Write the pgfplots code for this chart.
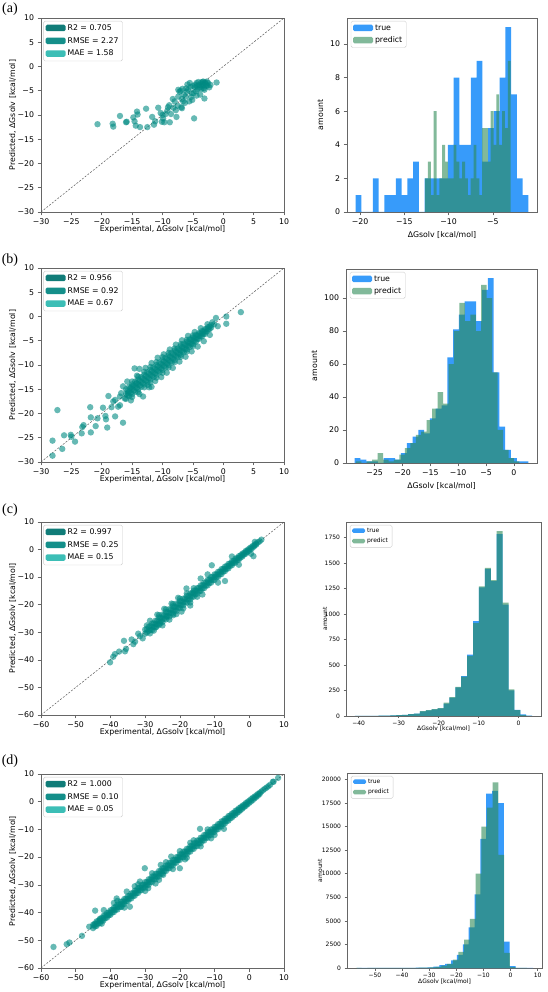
\documentclass[border=0pt]{standalone}
\usepackage{pgfplots}
\pgfplotsset{compat=1.18}
\usepackage{fontspec}
\setmainfont{DejaVu Sans}
\newfontfamily\serif{Liberation Serif}
\definecolor{scat}{RGB}{0,138,130}
\definecolor{lgA}{RGB}{16,124,120}
\definecolor{lgB}{RGB}{20,143,138}
\definecolor{lgC}{RGB}{60,190,182}
\definecolor{truec}{RGB}{55,155,250}
\definecolor{predc}{RGB}{46,139,87}
\newcommand{\fa}{\fontsize{7.8}{9}\selectfont}
\newcommand{\fb}{\fontsize{6}{7}\selectfont}
\pgfplotsset{
  base/.style={scale only axis, axis line style={black!60,line width=0.6pt},
    tick style={black!60,line width=0.6pt}, tick align=outside, tick pos=left,
    major tick length=3.5pt, legend cell align=left, scaled y ticks=false, scaled x ticks=false,
    legend image code/.code={\fill[##1] (0pt,-3pt) rectangle (20pt,3.5pt);}},
  scat/.style={base, width=243pt, height=194pt,
    xlabel={Experimental, ΔGsolv [kcal/mol]}, ylabel={Predicted, ΔGsolv [kcal/mol]},
    tick label style={font=\fa}, label style={font=\fa},
    xlabel style={at={(axis description cs:0.5,-0.0876)}, anchor=center},
    ylabel style={at={(axis description cs:-0.1165,0.5)}, anchor=center},
    legend style={at={(0.01,0.985)}, anchor=north west, draw=black!20, rounded corners=1.5pt,
      font=\fa, inner xsep=2pt, inner ysep=1.5pt, row sep=1.5pt}},
  scatAB/.style={scat, xmin=-30, xmax=10, ymin=-30, ymax=10,
    xtick={-30,-25,...,10}, ytick={-30,-25,...,10},
    xticklabels={−30,−25,−20,−15,−10,−5,0,5,10}, yticklabels={−30,−25,−20,−15,−10,−5,0,5,10}},
  scatCD/.style={scat, xmin=-60, xmax=10, ymin=-60, ymax=10,
    xtick={-60,-50,...,10}, ytick={-60,-50,...,10},
    xticklabels={−60,−50,−40,−30,−20,−10,0,10}, yticklabels={−60,−50,−40,−30,−20,−10,0,10}},
  pts/.style={only marks, mark=*, mark size=3.2pt, color=scat,
    mark options={fill=scat, fill opacity=0.6, draw opacity=0, line width=0pt}},
  diag/.style={black!65, line width=0.5pt, dash pattern=on 2pt off 1.5pt},
  hist/.style={base, ylabel={amount}, xlabel={ΔGsolv [kcal/mol]}, ymin=0},
  histAB/.style={hist, tick label style={font=\fa}, label style={font=\fa},
    legend style={at={(0.02,0.985)}, anchor=north west, draw=black!20, rounded corners=1.5pt,
      font=\fa, inner xsep=2pt, inner ysep=1.5pt, row sep=1pt}},
  histCD/.style={hist, tick label style={font=\fb}, label style={font=\fb},
    major tick length=2.5pt, xticklabel style={yshift=1pt},
    legend image code/.code={\fill[##1] (0pt,-2pt) rectangle (13pt,2.5pt);},
    legend style={at={(0.02,0.985)}, anchor=north west, draw=black!20, rounded corners=1.5pt,
      font=\fb, inner xsep=2pt, inner ysep=1pt, row sep=0.5pt}},
  tbar/.style={ybar interval, fill=truec, draw=none, forget plot},
  pbar/.style={ybar interval, fill=predc, fill opacity=0.6, draw=none, forget plot},
}
\begin{document}
\begin{tikzpicture}
\path[use as bounding box] (0,0) rectangle (547pt,992pt);
% ---------- (a) scatter
\begin{axis}[scatAB, at={(41pt,780pt)}, anchor=south west]
\addlegendimage{fill=lgA, draw=none}\addlegendentry{R2 = 0.705}
\addlegendimage{fill=lgB, draw=none}\addlegendentry{RMSE = 2.27}
\addlegendimage{fill=lgC, draw=none}\addlegendentry{MAE = 1.58}
\addplot[pts, forget plot] coordinates {
(-20.7,-11.9) (-18.2,-11.8) (-18.1,-12.4) (-17.0,-10.2) (-16.0,-11.5) (-15.9,-11.4) (-14.8,-10.5) (-14.6,-11.3) (-14.2,-9.3) (-14.1,-9.9) (-14.4,-12.2) (-13.7,-12.5) (-12.7,-8.7) (-12.5,-12.5) (-11.7,-10.4) (-11.4,-12.0) (-11.2,-11.3) (-10.7,-8.5) (-10.3,-9.6) (-10.0,-10.0) (-9.9,-10.7) (-10.1,-11.4) (-9.7,-11.5) (-9.2,-9.1) (-9.1,-8.4) (-8.9,-8.0) (-8.8,-11.5) (-8.6,-9.8) (-8.3,-6.7) (-8.0,-7.2) (-7.7,-10.4) (-7.5,-8.1) (-7.4,-6.2) (-7.4,-4.8) (-7.2,-5.2) (-6.9,-8.4) (-6.8,-8.6) (-6.8,-6.7) (-6.6,-7.2) (-6.5,-5.8) (-6.2,-6.2) (-6.1,-4.5) (-5.8,-4.8) (-5.6,-7.2) (-5.5,-3.4) (-5.2,-5.5) (-5.1,-6.9) (-4.8,-10.7) (-4.7,-4.3) (-4.5,-5.1) (-4.4,-3.4) (-4.2,-4.7) (-4.0,-3.8) (-3.9,-4.3) (-3.8,-5.8) (-3.6,-3.3) (-3.4,-4.0) (-3.3,-3.1) (-3.2,-4.5) (-3.1,-4.8) (-3.1,-6.6) (-2.9,-3.6) (-2.8,-4.0) (-2.5,-3.4) (-2.3,-4.3) (-2.1,-3.8) (-1.1,-3.3)
(-7.0,-5.0) (-6.0,-5.2) (-5.4,-4.2) (-5.0,-4.0) (-4.9,-5.5) (-4.6,-3.8) (-4.3,-4.0) (-4.1,-3.2) (-3.7,-3.9) (-3.5,-3.6) (-3.4,-3.2) (-3.2,-3.8) (-3.0,-3.3) (-2.7,-3.1) (-2.6,-3.9) (-3.6,-4.6) (-4.4,-6.0) (-5.3,-6.3) (-6.3,-7.5) (-7.8,-9.0) (-9.5,-9.8) (-8.2,-8.5) (-5.9,-3.7) (-6.7,-4.6)
};
\addplot[diag, forget plot] coordinates {(-30,-30) (10,10)};
\end{axis}
% ---------- (a) histogram
\begin{axis}[histAB, at={(347pt,780pt)}, anchor=south west, width=190pt, height=194pt,
  xmin=-21.475, xmax=-0.025, ymax=11.55,
  xtick={-20,-15,-10,-5}, xticklabels={−20,−15,−10,−5},
  ytick={0,2,...,10}, yticklabels={0,2,4,6,8,10}]
\addlegendimage{fill=truec, draw=none}\addlegendentry{true}
\addlegendimage{fill=predc, fill opacity=0.6, draw=none}\addlegendentry{predict}
\addplot[tbar] coordinates {(-20.5,1) (-19.85,0) (-19.2,0) (-18.55,2) (-17.9,0) (-17.25,1) (-16.6,1) (-15.95,2) (-15.3,1) (-14.65,2) (-14.0,3) (-13.35,0) (-12.7,2) (-12.05,2) (-11.4,2) (-10.75,2) (-10.1,4) (-9.45,8) (-8.8,4) (-8.15,4) (-7.5,8) (-6.85,9) (-6.2,3) (-5.55,5) (-4.9,6) (-4.25,8) (-3.6,11) (-2.95,7) (-2.3,2) (-1.65,1) (-1.0,0)};
\addplot[pbar] coordinates {(-12.66,2) (-12.34,3) (-12.02,1) (-11.69,6) (-11.37,1) (-11.05,2) (-10.73,4) (-10.41,3) (-10.08,2) (-9.76,2) (-9.44,4) (-9.12,3) (-8.80,2) (-8.47,3) (-8.15,2) (-7.83,1) (-7.51,2) (-7.19,4) (-6.86,2) (-6.54,1) (-6.22,5) (-5.90,5) (-5.58,3) (-5.25,6) (-4.93,4) (-4.61,7) (-4.29,4) (-3.97,6) (-3.64,5) (-3.32,9) (-3.00,0)};
\end{axis}
% ---------- (b) scatter
\begin{axis}[scatAB, at={(41pt,530pt)}, anchor=south west]
\addlegendimage{fill=lgA, draw=none}\addlegendentry{R2 = 0.956}
\addlegendimage{fill=lgB, draw=none}\addlegendentry{RMSE = 0.92}
\addlegendimage{fill=lgC, draw=none}\addlegendentry{MAE = 0.67}
\addplot[pts, forget plot] coordinates {
(-16,-15) (-16,-16) (-16,-17) (-15.5,-14.5) (-15.5,-15.5) (-15.5,-16.4) (-15,-14) (-15,-15) (-15,-16) (-14.5,-13.4) (-14.5,-14.5) (-14.5,-15.5) (-14,-13) (-14,-14) (-14,-15) (-13.5,-12.5) (-13.5,-13.5) (-13.5,-14.5) (-13,-12) (-13,-13) (-13,-14) (-12.5,-11.5) (-12.5,-12.5) (-12.5,-13.5) (-12,-11) (-12,-12) (-12,-13) (-11.5,-10.5) (-11.5,-11.5) (-11.5,-12.5) (-11,-10) (-11,-11) (-11,-12) (-10.5,-9.5) (-10.5,-10.5) (-10.5,-11.5) (-10,-9) (-10,-10) (-10,-11) (-9.5,-8.5) (-9.5,-9.5) (-9.5,-10.5) (-9,-8) (-9,-9) (-9,-10) (-8.5,-7.5) (-8.5,-8.5) (-8.5,-9.5) (-8,-7) (-8,-8) (-8,-9) (-7.5,-6.6) (-7.5,-7.5) (-7.5,-8.4) (-7,-6.1) (-7,-7) (-7,-7.9) (-6.5,-5.6) (-6.5,-6.5) (-6.5,-7.4) (-6,-5.2) (-6,-6) (-6,-6.8) (-5.5,-4.7) (-5.5,-5.5) (-5.5,-6.3) (-5,-4.3) (-5,-5) (-5,-5.7) (-4.5,-3.8) (-4.5,-4.5) (-4.5,-5.2) (-4,-3.4) (-4,-4) (-4,-4.6) (-3.5,-3) (-3.5,-3.5) (-3.5,-4.1) (-3,-2.6) (-3,-3.1) (-3,-3.6) (-2.5,-2.2) (-2.5,-2.7) (-2,-1.8) (-2,-2.3) (-1.5,-1.6)
(-15.75,-15.25) (-15.75,-16.25) (-15.25,-14.75) (-15.25,-15.75) (-14.75,-14.25) (-14.75,-15.25) (-14.25,-13.75) (-14.25,-14.75) (-13.75,-13.25) (-13.75,-14.25) (-13.25,-12.75) (-13.25,-13.75) (-12.75,-12.25) (-12.75,-13.25) (-12.25,-11.75) (-12.25,-12.75) (-11.75,-11.25) (-11.75,-12.25) (-11.25,-10.75) (-11.25,-11.75) (-10.75,-10.25) (-10.75,-11.25) (-10.25,-9.75) (-10.25,-10.75) (-9.75,-9.25) (-9.75,-10.25) (-9.25,-8.75) (-9.25,-9.75) (-8.75,-8.25) (-8.75,-9.25) (-8.25,-7.75) (-8.25,-8.75) (-7.75,-7.25) (-7.75,-8.2) (-7.25,-6.8) (-7.25,-7.7) (-6.75,-6.3) (-6.75,-7.2) (-6.25,-5.8) (-6.25,-6.7) (-5.75,-5.3) (-5.75,-6.1) (-5.25,-4.8) (-5.25,-5.6) (-4.75,-4.4) (-4.75,-5.1) (-4.25,-3.9) (-4.25,-4.6) (-3.75,-3.5) (-3.75,-4.1) (-3.25,-3.1) (-3.25,-3.6) (-2.75,-2.6) (-2.75,-3.1) (-2.25,-2.1) (-2.25,-2.6)
(-15,-13.4) (-15,-16.6) (-14,-12.4) (-14,-15.6) (-13,-11.4) (-13,-14.6) (-12,-10.4) (-12,-13.6) (-11,-9.4) (-11,-12.6) (-10,-8.4) (-10,-11.6) (-9,-7.5) (-9,-10.5) (-8,-6.6) (-8,-9.4) (-7,-5.7) (-7,-8.3) (-6,-4.8) (-6,-7.2) (-5,-3.9) (-5,-6.1)
(-17,-18.3) (-16.8,-15.8) (-16.5,-14.4) (-15.8,-13.4) (-15.2,-17.3) (-14.2,-12.2) (-13.8,-16.0) (-12.8,-10.6) (-12.2,-14.6) (-11.8,-9.6) (-11.2,-13.3) (-10.8,-8.5) (-10.2,-12.5) (-9.8,-7.8) (-9.3,-11.6) (-8.8,-6.8) (-8.3,-10.6) (-7.8,-5.8) (-7.2,-9.3) (-6.8,-4.9) (-6.2,-8.3) (-5.8,-4.0) (-5.2,-7.2) (-4.7,-3.2) (-4.2,-6.2) (-3.7,-2.4) (-3.2,-5.1) (-2.6,-1.6) (-2.2,-3.8) (-1.8,-1.2)
(-28.1,-28.7) (-28.1,-25.6) (-27.3,-19.3) (-26.5,-27.3) (-26.2,-24.5) (-25.1,-24.4) (-25.0,-24.8) (-24.4,-25.8) (-23.3,-24.1) (-23.2,-22.8) (-23.0,-22.4) (-21.9,-18.7) (-21.8,-20.8) (-21.8,-23.9) (-21.0,-22.6) (-20.7,-21.0) (-19.8,-18.8) (-19.4,-20.5) (-19.3,-21.2) (-19.1,-22.9) (-18.9,-16.4) (-18.4,-18.7) (-18.1,-17.5) (-17.8,-17.2) (-17.8,-20.6) (-17.3,-18.6) (-16.5,-21.9) (-17.0,-16.5) (-16.2,-16.9) (-15.7,-15.8) (-14.6,-10.7) (-15.1,-14.5) (-14.3,-13.8) (-13.2,-16.5) (-12.4,-14.1) (-13.8,-10.8) (-11.8,-14.5) (0.5,0.0) (0.5,-1.5) (2.9,0.9) (-0.9,-2.0) (-1.2,-0.3)
};
\addplot[diag, forget plot] coordinates {(-30,-30) (10,10)};
\end{axis}
% ---------- (b) histogram
\begin{axis}[histAB, at={(346pt,529pt)}, anchor=south west, width=191pt, height=194pt,
  xmin=-30.16, xmax=4.16, ymax=117.6,
  xtick={-25,-20,...,0}, xticklabels={−25,−20,−15,−10,−5,0},
  ytick={0,20,...,100}, yticklabels={0,20,40,60,80,100}]
\addlegendimage{fill=truec, draw=none}\addlegendentry{true}
\addlegendimage{fill=predc, fill opacity=0.6, draw=none}\addlegendentry{predict}
\addplot[tbar] coordinates {(-28.6,3) (-27.56,2) (-26.52,1) (-25.48,1) (-24.44,0) (-23.4,3) (-22.36,3) (-21.32,2) (-20.28,6) (-19.24,12) (-18.2,16) (-17.16,20) (-16.12,18) (-15.08,27) (-14.04,33) (-13.0,35) (-11.96,64) (-10.92,81) (-9.88,90) (-8.84,98) (-7.8,98) (-6.76,86) (-5.72,105) (-4.68,112) (-3.64,55) (-2.6,22) (-1.56,8) (-0.52,3) (0.52,1) (1.56,1) (2.6,0)};
\addplot[pbar] coordinates {(-28.4,1) (-27.42,0) (-26.44,1) (-25.46,2) (-24.48,6) (-23.5,2) (-22.52,1) (-21.54,2) (-20.56,5) (-19.58,9) (-18.6,12) (-17.62,17) (-16.64,19) (-15.66,26) (-14.68,33) (-13.7,43) (-12.72,36) (-11.74,60) (-10.76,80) (-9.78,97) (-8.8,86) (-7.82,90) (-6.84,80) (-5.86,108) (-4.88,100) (-3.9,55) (-2.92,20) (-1.94,8) (-0.96,3) (0.02,1) (1.0,0)};
\end{axis}
% ---------- (c) scatter
\begin{axis}[scatCD, at={(41pt,277pt)}, anchor=south west, height=193pt]
\addlegendimage{fill=lgA, draw=none}\addlegendentry{R2 = 0.997}
\addlegendimage{fill=lgB, draw=none}\addlegendentry{RMSE = 0.25}
\addlegendimage{fill=lgC, draw=none}\addlegendentry{MAE = 0.15}
\addplot[pts, forget plot] coordinates {
(-30,-29) (-30,-30.5) (-29,-28) (-29,-29.5) (-28,-26.8) (-28,-28) (-28,-29.2) (-27,-25.8) (-27,-27) (-27,-28.2) (-26,-24.6) (-26,-26) (-26,-27.3) (-25,-23.6) (-25,-25) (-25,-26.3) (-24,-22.6) (-24,-24) (-24,-25.3) (-23,-21.6) (-23,-23) (-23,-24.3) (-22,-20.6) (-22,-22) (-22,-23.3) (-21,-19.6) (-21,-21) (-21,-22.3) (-20,-18.7) (-20,-20) (-20,-21.2) (-19,-17.8) (-19,-19) (-19,-20.2) (-18,-16.8) (-18,-18) (-18,-19.2) (-17,-15.9) (-17,-17) (-17,-18.1) (-16,-14.9) (-16,-16) (-16,-17.1) (-15,-14) (-15,-15) (-15,-16) (-14,-13) (-14,-14) (-14,-15) (-13,-12) (-13,-13) (-13,-14) (-12,-11) (-12,-12) (-12,-13) (-11,-10) (-11,-11) (-11,-12) (-10,-9) (-10,-10) (-10,-11) (-9,-8.1) (-9,-9) (-9,-9.9) (-8,-7.1) (-8,-8) (-8,-8.9) (-7,-6.2) (-7,-7) (-7,-7.8) (-6,-5.2) (-6,-6) (-6,-6.8) (-5,-4.3) (-5,-5) (-5,-5.7) (-4,-3.3) (-4,-4) (-4,-4.7) (-3,-2.4) (-3,-3) (-3,-3.6) (-2,-1.5) (-2,-2) (-2,-2.5) (-1,-0.5) (-1,-1) (-1,-1.5) (0,0.4) (0,-0.4) (1,1.3) (1,0.7) (2,2.2) (2,1.8) (3,3)
(-29.5,-28.9) (-29.5,-30.1) (-28.5,-27.8) (-28.5,-29.1) (-27.5,-26.8) (-27.5,-28.1) (-26.5,-25.8) (-26.5,-27.1) (-25.5,-24.8) (-25.5,-26.1) (-24.5,-23.8) (-24.5,-25.1) (-23.5,-22.8) (-23.5,-24.1) (-22.5,-21.8) (-22.5,-23.1) (-21.5,-20.8) (-21.5,-22.1) (-20.5,-19.8) (-20.5,-21.1) (-19.5,-18.8) (-19.5,-20.1) (-18.5,-17.8) (-18.5,-19.1) (-17.5,-16.9) (-17.5,-18.1) (-16.5,-15.9) (-16.5,-17.1) (-15.5,-14.9) (-15.5,-16.1) (-14.5,-13.9) (-14.5,-15.1) (-13.5,-12.9) (-13.5,-14.1) (-12.5,-11.9) (-12.5,-13.1) (-11.5,-10.9) (-11.5,-12.1) (-10.5,-9.9) (-10.5,-11.1) (-9.5,-9.0) (-9.5,-10.0) (-8.5,-8.0) (-8.5,-9.0) (-7.5,-7.0) (-7.5,-8.0) (-6.5,-6.0) (-6.5,-7.0) (-5.5,-5.1) (-5.5,-5.9) (-4.5,-4.1) (-4.5,-4.9) (-3.5,-3.1) (-3.5,-3.9) (-2.5,-2.1) (-2.5,-2.9) (-1.5,-1.2) (-1.5,-1.8) (-0.5,-0.2) (-0.5,-0.8) (0.5,0.8) (0.5,0.2) (1.5,1.7) (1.5,1.3) (2.5,2.6)
(-26,-23.8) (-25,-27.5) (-24,-21.7) (-23,-25.4) (-22,-19.8) (-21,-23.4) (-20,-17.8) (-19,-21.3) (-18,-15.9) (-17,-19.2) (-16,-14.0) (-15,-17.1)
(-40.1,-40.9) (-39.2,-38.9) (-38.7,-37.9) (-36.1,-33.1) (-35.8,-36.9) (-35.5,-36.0) (-33.9,-32.6) (-33.4,-34.3) (-32.9,-33.4) (-31.5,-31.4) (-30.7,-32.2) (-28.6,-25.8) (-28.6,-30.4) (-27.5,-29.4) (-26.7,-28.0) (-25.7,-26.8) (-23.8,-24.4) (-22.4,-19.6) (-21.9,-23.8) (-18.1,-14.1) (-16.2,-15.7) (-10.8,-5.7) (-7.0,-11.4) (1.2,-2.4) (1.6,2.8) (3.5,3.6) (-24.5,-21.5) (-20.5,-17.5) (-19.5,-22.5) (-14,-10.5) (-12,-9) (-9,-12) (-5,-2.5) (-3,-5.5) (0.5,-1.5) (-17,-20.3) (-13.5,-16.3) (-26.5,-23.6) (-29.5,-27.5) (-32,-30.5) (-37.5,-37)
};
\addplot[diag, forget plot] coordinates {(-60,-60) (10,10)};
\end{axis}
% ---------- (c) histogram
\begin{axis}[histCD, at={(346pt,276pt)}, anchor=south west, width=195pt, height=194pt,
  xmin=-43.18, xmax=5.6, ymax=1900,
  xlabel style={at={(axis description cs:0.5,-0.067)}, anchor=center},
  ylabel style={at={(axis description cs:-0.108,0.5)}, anchor=center},
  xtick={-40,-30,...,0}, xticklabels={−40,−30,−20,−10,0},
  ytick={0,250,...,1750}, yticklabels={0,250,500,750,1000,1250,1500,1750}]
\addlegendimage{fill=truec, draw=none}\addlegendentry{true}
\addlegendimage{fill=predc, fill opacity=0.6, draw=none}\addlegendentry{predict}
\addplot[tbar] coordinates {(-40.96,1) (-39.48,1) (-38.00,1) (-36.53,2) (-35.05,3) (-33.57,4) (-32.09,5) (-30.61,8) (-29.14,10) (-27.66,18) (-26.18,22) (-24.70,45) (-23.22,55) (-21.75,65) (-20.27,75) (-18.79,120) (-17.31,180) (-15.83,280) (-14.36,390) (-12.88,600) (-11.40,930) (-9.92,1260) (-8.44,1440) (-6.97,1320) (-5.49,1780) (-4.01,1090) (-2.53,250) (-1.05,60) (0.42,15) (1.90,3) (3.38,0)};
\addplot[pbar] coordinates {(-40.96,1) (-39.48,1) (-38.00,1) (-36.53,1) (-35.05,3) (-33.57,4) (-32.09,5) (-30.61,8) (-29.14,10) (-27.66,18) (-26.18,22) (-24.70,48) (-23.22,58) (-21.75,68) (-20.27,78) (-18.79,130) (-17.31,185) (-15.83,285) (-14.36,385) (-12.88,590) (-11.40,910) (-9.92,1270) (-8.44,1450) (-6.97,1330) (-5.49,1810) (-4.01,1110) (-2.53,260) (-1.05,58) (0.42,8) (1.90,1) (3.38,0)};
\end{axis}
% ---------- (d) scatter
\begin{axis}[scatCD, at={(41pt,24pt)}, anchor=south west]
\addlegendimage{fill=lgA, draw=none}\addlegendentry{R2 = 1.000}
\addlegendimage{fill=lgB, draw=none}\addlegendentry{RMSE = 0.10}
\addlegendimage{fill=lgC, draw=none}\addlegendentry{MAE = 0.05}
\addplot[pts, forget plot] coordinates {
(-45,-44.4) (-45,-45.6) (-44,-43.2) (-44,-44) (-44,-44.8) (-43,-42.2) (-43,-43) (-43,-43.8) (-42,-41.2) (-42,-42) (-42,-42.8) (-41,-40.2) (-41,-41) (-41,-41.8) (-40,-39.2) (-40,-40) (-40,-40.8) (-39,-38.2) (-39,-39) (-39,-39.8) (-38,-37.1) (-38,-38) (-38,-38.9) (-37,-36.1) (-37,-37) (-37,-37.9) (-36,-35.1) (-36,-36) (-36,-36.9) (-35,-34.1) (-35,-35) (-35,-35.9) (-34,-33.1) (-34,-34) (-34,-34.9) (-33,-32.1) (-33,-33) (-33,-33.9) (-32,-31.1) (-32,-32) (-32,-32.9) (-31,-30.1) (-31,-31) (-31,-31.9) (-30,-29) (-30,-30) (-30,-31) (-29,-28) (-29,-29) (-29,-30) (-28,-27) (-28,-28) (-28,-29) (-27,-26) (-27,-27) (-27,-28) (-26,-25) (-26,-26) (-26,-27) (-25,-24) (-25,-25) (-25,-26) (-24,-23) (-24,-24) (-24,-25) (-23,-22) (-23,-23) (-23,-24) (-22,-21) (-22,-22) (-22,-23) (-21,-20) (-21,-21) (-21,-22) (-20,-19) (-20,-20) (-20,-21) (-19,-18) (-19,-19) (-19,-20) (-18,-17) (-18,-18) (-18,-19) (-17,-16) (-17,-17) (-17,-18) (-16,-15) (-16,-16) (-16,-17) (-15,-14) (-15,-15) (-15,-16) (-14,-13) (-14,-14) (-14,-15) (-13,-12) (-13,-13) (-13,-14) (-12,-11) (-12,-12) (-12,-13) (-11,-10) (-11,-11) (-11,-12) (-10,-9.1) (-10,-10) (-10,-10.9) (-9,-8.1) (-9,-9) (-9,-9.9) (-8,-7.1) (-8,-8) (-8,-8.9) (-7,-6.2) (-7,-7) (-7,-7.8) (-6,-5.2) (-6,-6) (-6,-6.8) (-5,-4.3) (-5,-5) (-5,-5.7) (-4,-3.3) (-4,-4) (-4,-4.7) (-3,-2.4) (-3,-3) (-3,-3.6) (-2,-1.5) (-2,-2) (-2,-2.5) (-1,-0.5) (-1,-1) (-1,-1.5) (0,0.4) (0,-0.4) (1,1.4) (1,0.6) (2,2.3) (2,1.7) (3,3.2) (3,2.8) (4,4.2) (5,5.1) (6,6.1)
(-44.5,-44) (-44.5,-45) (-43.5,-43) (-43.5,-44) (-42.5,-42) (-42.5,-43) (-41.5,-41) (-41.5,-42) (-40.5,-40) (-40.5,-41) (-39.5,-39) (-39.5,-40) (-38.5,-38) (-38.5,-39) (-37.5,-37) (-37.5,-38) (-36.5,-36) (-36.5,-37) (-35.5,-35) (-35.5,-36) (-34.5,-34) (-34.5,-35) (-33.5,-33) (-33.5,-34) (-32.5,-32) (-32.5,-33) (-31.5,-31) (-31.5,-32) (-30.5,-30) (-30.5,-31) (-29.5,-29) (-29.5,-30) (-28.5,-28) (-28.5,-29) (-27.5,-27) (-27.5,-28) (-26.5,-26) (-26.5,-27) (-25.5,-25) (-25.5,-26) (-24.5,-24) (-24.5,-25) (-23.5,-23) (-23.5,-24) (-22.5,-22) (-22.5,-23) (-21.5,-21) (-21.5,-22) (-20.5,-20) (-20.5,-21) (-19.5,-19) (-19.5,-20) (-18.5,-18) (-18.5,-19) (-17.5,-17) (-17.5,-18) (-16.5,-16) (-16.5,-17) (-15.5,-15) (-15.5,-16) (-14.5,-14) (-14.5,-15) (-13.5,-13) (-13.5,-14) (-12.5,-12) (-12.5,-13) (-11.5,-11) (-11.5,-12) (-10.5,-10) (-10.5,-11) (-9.5,-9) (-9.5,-10) (-8.5,-8) (-8.5,-9) (-7.5,-7) (-7.5,-8) (-6.5,-6) (-6.5,-7) (-5.5,-5) (-5.5,-6) (-4.5,-4) (-4.5,-5) (-3.5,-3) (-3.5,-4) (-2.5,-2) (-2.5,-3) (-1.5,-1.1) (-1.5,-1.9) (-0.5,-0.1) (-0.5,-0.9) (0.5,0.9) (0.5,0.1) (1.5,1.8) (1.5,1.2) (2.5,2.8) (2.5,2.2) (3.5,3.7) (4.5,4.7) (5.5,5.6) (7,7.2)
(-38,-35.8) (-36,-38.2) (-32,-29.8) (-30,-32.2) (-28,-25.8) (-26,-28.2) (-24,-21.8) (-22,-24.3) (-20,-17.8) (-18,-20.2) (-16,-13.9) (-14,-16.1) (-12,-10) (-10,-12)
(-56.4,-52.4) (-52.6,-51.4) (-51.8,-50.8) (-48.2,-48.4) (-46.1,-45.1) (-44.7,-44.5) (-44.4,-39.3) (-43.0,-42.5) (-41.9,-39.1) (-40.6,-40.7) (-38.2,-34.9) (-36.8,-37.9) (-35.3,-32.4) (-34.4,-37.9) (-30.1,-24.0) (-29.1,-31.2) (-24.8,-26.4) (-20.0,-24.0) (-20.7,-21.0) (-14.2,-9.8) (-7.3,-9.8) (8.3,8.6) (6.8,7.2) (-39,-36.5) (-42.5,-44) (-33,-30.5) (-27,-29.5) (-22.5,-19.8) (-17,-14.8) (-11,-13.2) (-25.5,-22.8) (-18.5,-20.8) (-31.5,-28.8)
};
\addplot[diag, forget plot] coordinates {(-60,-60) (10,10)};
\end{axis}
% ---------- (d) histogram
\begin{axis}[histCD, at={(347pt,24pt)}, anchor=south west, width=195pt, height=195pt,
  xmin=-60.27, xmax=11.57, ymax=20685,
  xlabel style={at={(axis description cs:0.5,-0.068)}, anchor=center},
  ylabel style={at={(axis description cs:-0.138,0.5)}, anchor=center},
  xtick={-50,-40,...,10}, xticklabels={−50,−40,−30,−20,−10,0,10},
  ytick={0,2500,...,20000}, yticklabels={0,2500,5000,7500,10000,12500,15000,17500,20000}]
\addlegendimage{fill=truec, draw=none}\addlegendentry{true}
\addlegendimage{fill=predc, fill opacity=0.6, draw=none}\addlegendentry{predict}
\addplot[tbar] coordinates {(-56.5,1) (-54.34,1) (-52.18,2) (-50.02,3) (-47.86,5) (-45.7,8) (-43.54,10) (-41.38,15) (-39.22,20) (-37.06,25) (-34.9,30) (-32.74,45) (-30.58,70) (-28.42,150) (-26.26,300) (-24.1,450) (-21.94,800) (-19.78,1400) (-17.62,2500) (-15.46,4300) (-13.3,7800) (-11.14,13700) (-8.98,18500) (-6.82,18800) (-4.66,17500) (-2.5,2800) (-0.34,200) (1.82,20) (3.98,5) (6.14,2) (8.3,0)};
\addplot[pbar] coordinates {(-57.0,1) (-54.9,0) (-52.8,1) (-50.7,2) (-48.6,2) (-46.5,3) (-44.4,5) (-42.3,8) (-40.2,10) (-38.1,15) (-36.0,20) (-33.9,30) (-31.8,40) (-29.7,60) (-27.6,120) (-25.5,250) (-23.4,450) (-21.3,900) (-19.2,1700) (-17.1,3000) (-15.0,5200) (-12.9,10000) (-10.8,15000) (-8.7,17000) (-6.6,19700) (-4.5,12000) (-2.4,1600) (-0.3,100) (1.8,10) (3.9,3) (6.0,0)};
\end{axis}
% ---------- panel labels
\node[font=\serif\fontsize{14}{14}\selectfont] at (10pt,983pt) {(a)};
\node[font=\serif\fontsize{14}{14}\selectfont] at (10pt,732pt) {(b)};
\node[font=\serif\fontsize{14}{14}\selectfont] at (10pt,482pt) {(c)};
\node[font=\serif\fontsize{14}{14}\selectfont] at (10pt,231pt) {(d)};
\end{tikzpicture}
\end{document}
